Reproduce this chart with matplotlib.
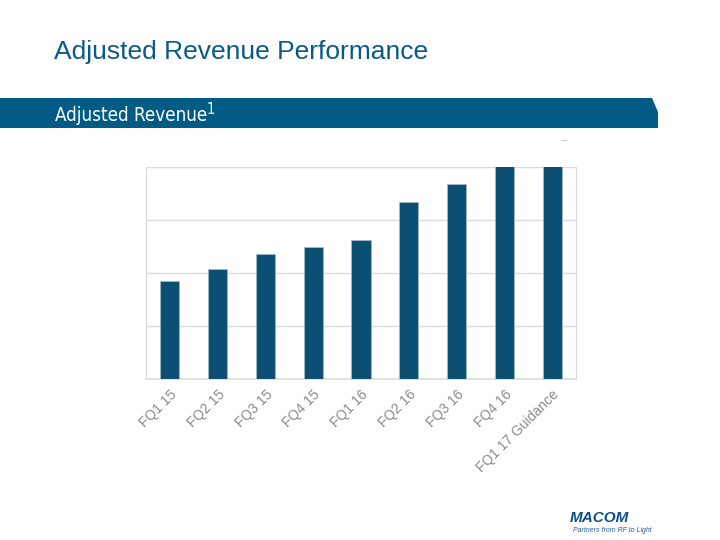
import matplotlib.pyplot as plt
from matplotlib.patches import Polygon

# Data (relative scale; last two run past the top)
quarters = ['FQ1 15', 'FQ2 15', 'FQ3 15', 'FQ4 15', 'FQ1 16',
            'FQ2 16', 'FQ3 16', 'FQ4 16', 'FQ1 17 Guidance']
revenue = [74.2, 83.3, 94.1, 99.6, 104.9, 133.3, 147.4, 165.0, 168.0]
y_ticks = [0, 40, 80, 120, 160]

fig = plt.figure(figsize=(7.2, 5.4), dpi=100)
plt.rcParams['font.family'] = ['Liberation Sans', 'DejaVu Sans']

# slide title
fig.text(54 / 720, 1 - 52 / 540, 'Adjusted Revenue Performance',
         fontsize=19, color='#0b5a86', va='center', ha='left')

# banner with slanted right edge
banner = Polygon([[0, 1 - 98 / 540], [652 / 720, 1 - 98 / 540],
                  [658 / 720, 1 - 112 / 540], [658 / 720, 1 - 128 / 540],
                  [0, 1 - 128 / 540]], closed=True,
                 transform=fig.transFigure, facecolor='#025b85',
                 edgecolor='none')
fig.patches.append(banner)
fig.text(55 / 720, 1 - 115 / 540, 'Adjusted Revenue',
         fontsize=13.5, color='white', va='center', ha='left',
         family=['Liberation Sans Narrow', 'DejaVu Sans'],
         fontstretch='condensed')
fig.text(207 / 720, 1 - 110 / 540, '1',
         fontsize=10.5, color='white', va='center', ha='left',
         family=['Liberation Sans Narrow', 'DejaVu Sans'],
         fontstretch='condensed')
fig.text(565 / 720, 1 - 140 / 540, '\u2013', fontsize=7, color='#bbbbbb',
         va='center', ha='center')

# chart
ax = fig.add_axes([146 / 720, 1 - 379 / 540, 430 / 720, 212 / 540])
x = range(len(quarters))
ax.bar(x, revenue, width=0.4, color='#0b4f72', edgecolor='#9fb9c6',
       linewidth=0.6, zorder=3)
ax.set_xlim(-0.5, len(quarters) - 0.5)
ax.set_ylim(y_ticks[0], y_ticks[-1])
ax.set_yticks(y_ticks)
ax.yaxis.grid(True, color='#d9ddd9', linewidth=1, zorder=0)
ax.tick_params(axis='y', length=0, labelleft=False)
ax.tick_params(axis='x', length=0, pad=6)
ax.set_xticks(list(x))
ax.set_xticklabels(quarters, rotation=45, ha='right', rotation_mode='anchor',
                   fontsize=10, color='#8a8a8a')
for side in ['left', 'right', 'top', 'bottom']:
    ax.spines[side].set_color('#d9ddd9')
ax.spines['bottom'].set_linewidth(1.2)

# logo
fig.text(599 / 720, 1 - 518 / 540, 'MACOM', fontsize=11, fontweight='heavy',
         style='italic', color='#0f4d8c', ha='center', va='center')
fig.text(612 / 720, 1 - 530 / 540, 'Partners from RF to Light', fontsize=5,
         style='italic', color='#1f5f99', ha='center', va='center')

fig.savefig('out.png', dpi=100)
